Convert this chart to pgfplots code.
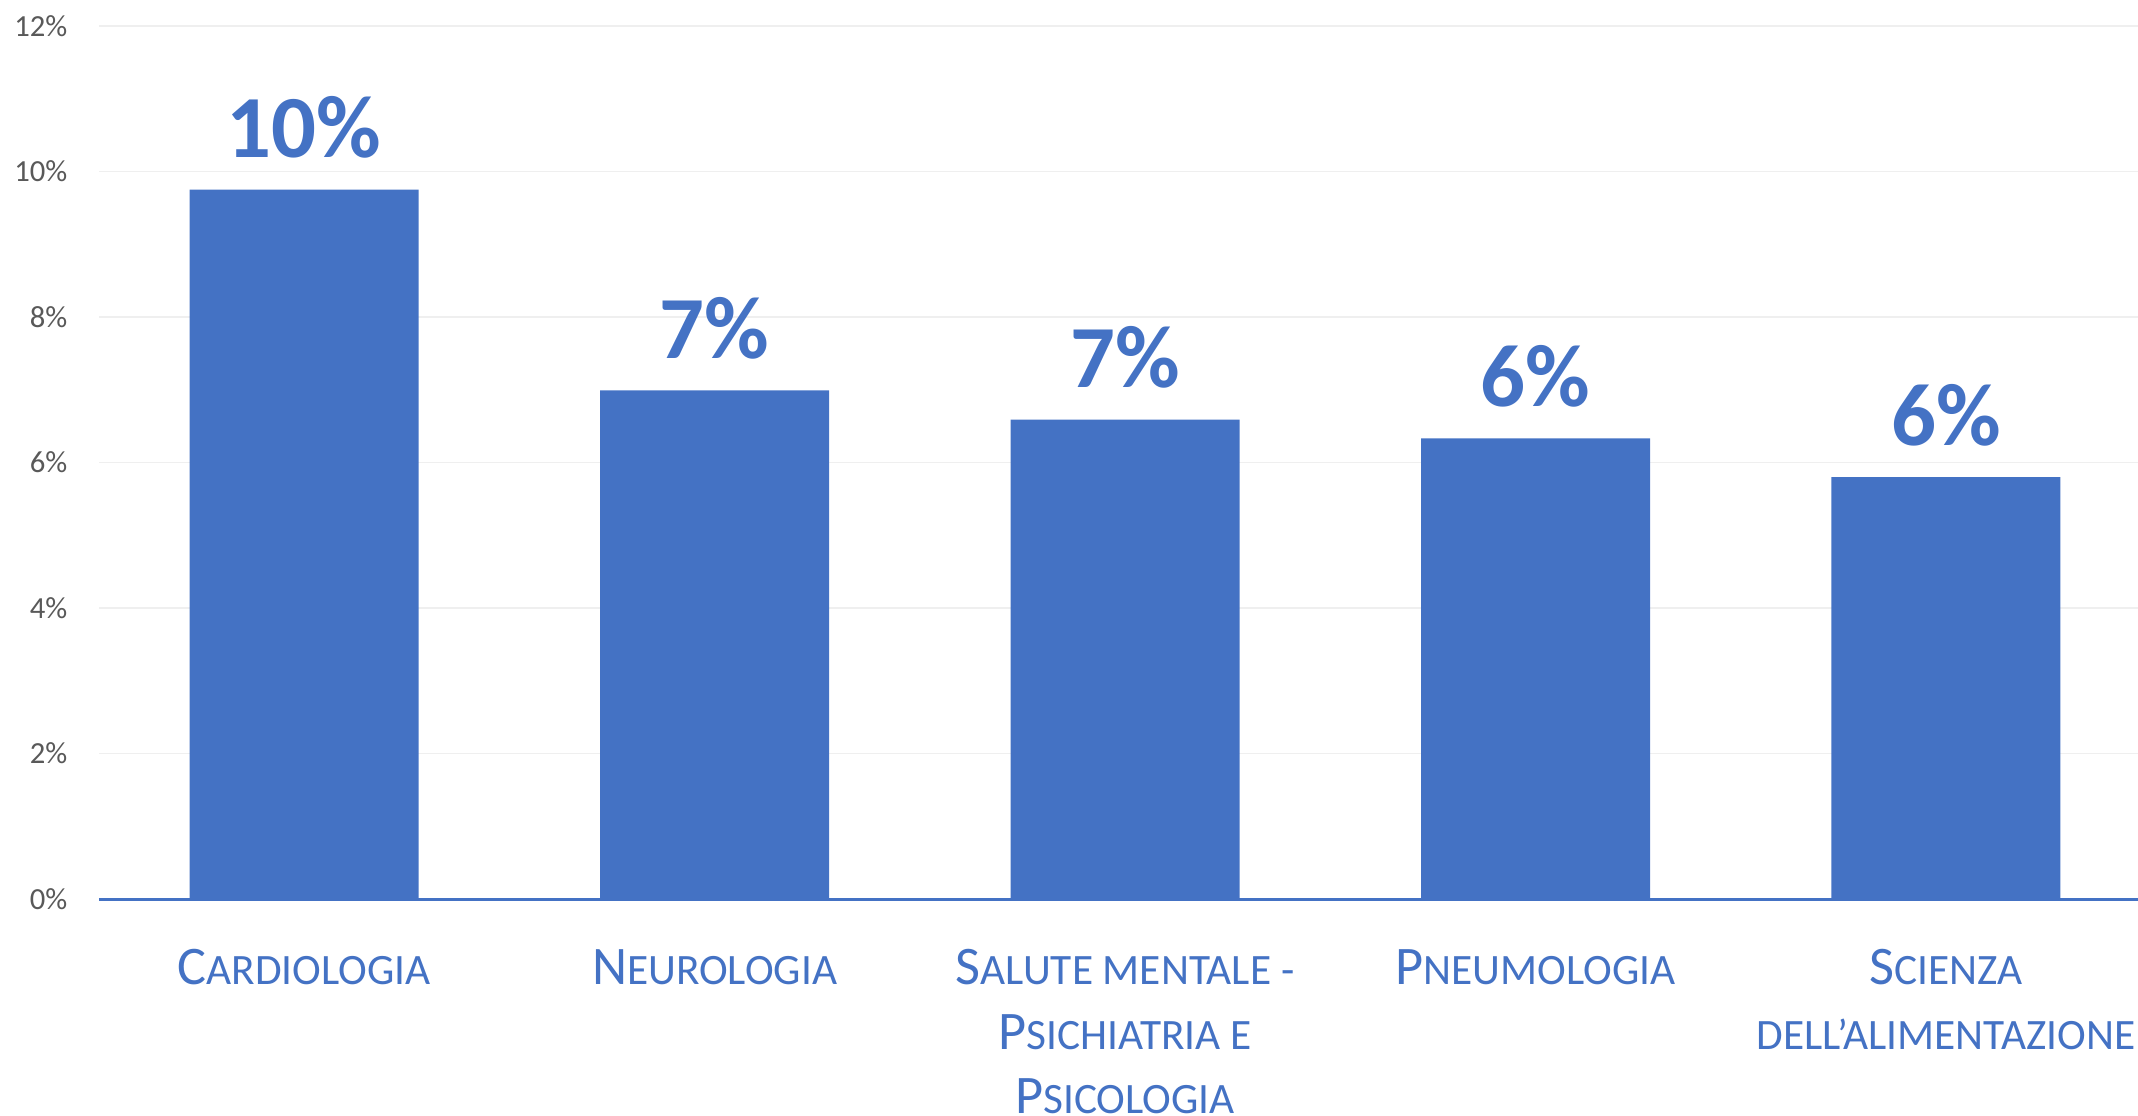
\documentclass[border=0pt]{standalone}
\usepackage{fontspec}
\setmainfont{Carlito}
\usepackage{pgfplots}
\pgfplotsset{compat=1.18}
\usepackage{pgfplotstable}
\definecolor{barblue}{HTML}{4472C4}
\definecolor{ticktxt}{HTML}{595959}
\definecolor{gridc}{HTML}{EFEFEF}
\newcommand{\BL}[1]{{\fontsize{16.3}{19.3}\selectfont #1}}
\pgfplotstableread{
x y
0 9.75
1 6.99
2 6.59
3 6.33
4 5.80
}\datatab
\begin{document}
\begin{tikzpicture}
\begin{axis}[
 name=ax, at={(0,0)}, anchor=south west,
 scale only axis, width=611.7pt, height=261.9pt,
 xmin=-0.5, xmax=4.468, ymin=0, ymax=12,
 ytick={0,2,...,12},
 yticklabel={\pgfmathprintnumber{\tick}\%},
 /pgf/number format/assume math mode=true,
 axis line style={draw=none},
 major tick length=0pt,
 ymajorgrids, grid style={gridc, line width=0.45pt},
 extra y ticks={0}, extra y tick labels={},
 extra y tick style={grid style={barblue, line width=0.9pt}},
 yticklabel style={font=\fontsize{9.2}{11}\selectfont, text=ticktxt, anchor=east, inner sep=0pt, xshift=-9.3pt},
 xtick={0,...,4},
 xticklabels={{\BL{C}ARDIOLOGIA}, {\BL{N}EUROLOGIA}, {\BL{S}ALUTE MENTALE -\\\BL{P}SICHIATRIA E\\\BL{P}SICOLOGIA}, {\BL{P}NEUMOLOGIA}, {\BL{S}CIENZA\\DELL’ALIMENTAZIONE}},
 xticklabel style={align=center, text=barblue, font=\fontsize{13}{19.3}\selectfont, anchor=north, inner sep=0pt, yshift=-15pt},
 ybar, bar width=68.7pt, bar shift=0pt,
 nodes near coords={\pgfmathprintnumber[fixed,precision=0]{\pgfplotspointmeta}\%},
 every node near coord/.append style={font=\bfseries\fontsize{26.6}{30}\selectfont, text=barblue, anchor=base, yshift=9.6pt, inner sep=0pt},
 clip=false,
]
\addplot[fill=barblue, draw=none] table[x=x,y=y] \datatab;
\end{axis}
\pgfresetboundingbox
\path[use as bounding box] (-29.7pt,-64.8pt) rectangle (611.7pt,269.7pt);
\end{tikzpicture}
\end{document}
